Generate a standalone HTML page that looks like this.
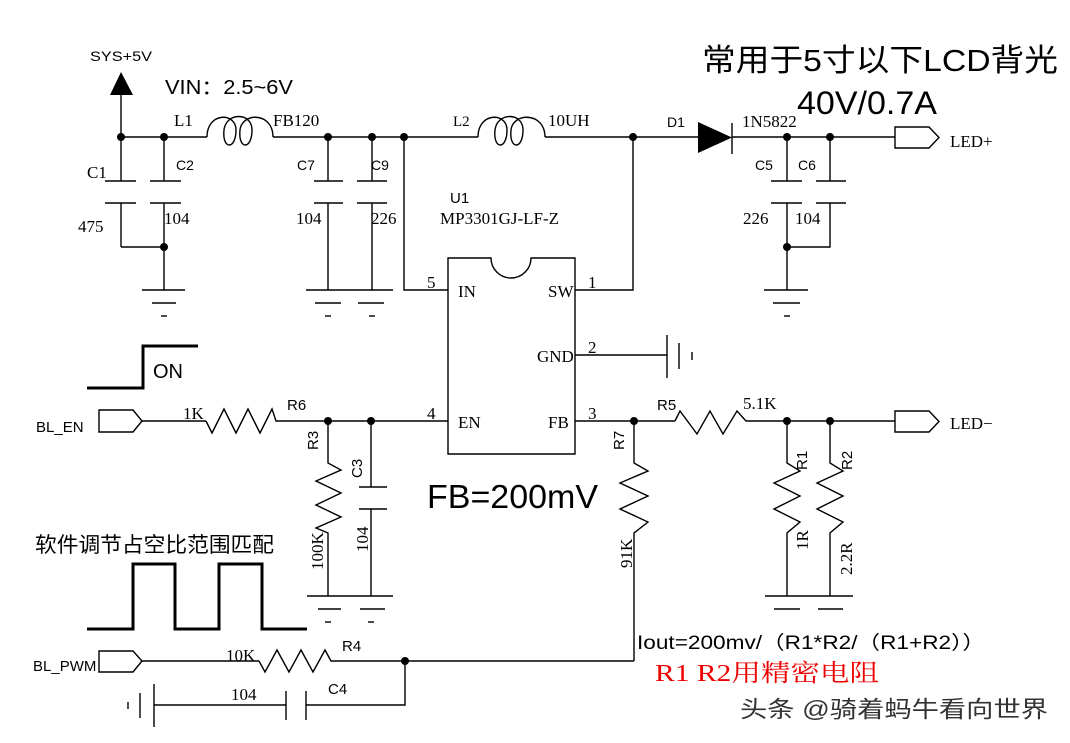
<!DOCTYPE html>
<html><head><meta charset="utf-8"><style>
body{margin:0;background:#fff}
svg{display:block}
.s{font-family:"Liberation Serif","Noto Serif CJK SC",serif}
.a{font-family:"Liberation Sans","Noto Sans CJK SC",sans-serif}
</style></head><body>
<svg width="1070" height="743" viewBox="0 0 1070 743" xmlns="http://www.w3.org/2000/svg">
<g stroke="#000" stroke-width="1.4" fill="none">
<line x1="121" y1="95" x2="121" y2="137"/>
<line x1="121" y1="137" x2="207" y2="137"/>
<path d="M207 137 C207 112,236 112,236 130 C236 150,222 150,224 130 C226 112,252 112,252 130 C252 150,238 150,240 130 C242 112,273 112,273 137"/>
<line x1="273" y1="137" x2="478" y2="137"/>
<path d="M478 137 C478 112,507 112,507 130 C507 150,493 150,495 130 C497 112,523 112,523 130 C523 150,509 150,511 130 C513 112,545 112,545 137"/>
<line x1="545" y1="137" x2="698" y2="137"/>
<line x1="732" y1="137" x2="895" y2="137"/>
<path d="M895 127 H929 L939 137.5 L929 148 H895 Z"/>
<line x1="121" y1="137" x2="121" y2="181"/><line x1="105" y1="181" x2="136" y2="181"/>
<line x1="105" y1="203" x2="136" y2="203"/><line x1="121" y1="203" x2="121" y2="247"/>
<line x1="121" y1="247" x2="164" y2="247"/>
<line x1="164" y1="137" x2="164" y2="181"/><line x1="150" y1="181" x2="181" y2="181"/>
<line x1="150" y1="203" x2="181" y2="203"/><line x1="164" y1="203" x2="164" y2="290"/>
<line x1="142" y1="290" x2="185" y2="290"/><line x1="152" y1="303" x2="176" y2="303"/><line x1="161" y1="316" x2="167" y2="316"/>
<line x1="328" y1="137" x2="328" y2="181"/><line x1="314" y1="181" x2="343" y2="181"/>
<line x1="314" y1="203" x2="343" y2="203"/><line x1="328" y1="203" x2="328" y2="290"/>
<line x1="372" y1="137" x2="372" y2="181"/><line x1="357" y1="181" x2="387" y2="181"/>
<line x1="357" y1="203" x2="387" y2="203"/><line x1="372" y1="203" x2="372" y2="290"/>
<line x1="306" y1="290" x2="393" y2="290"/><line x1="315" y1="303" x2="341" y2="303"/><line x1="358" y1="303" x2="384" y2="303"/>
<line x1="325" y1="316" x2="331" y2="316"/><line x1="369" y1="316" x2="375" y2="316"/>
<polyline points="404,137 404,290 448,290"/>
<path d="M448 258 H491 A20 20 0 0 0 531 258 H575 V454 H448 Z"/>
<polyline points="575,290 633,290 633,137"/>
<line x1="575" y1="355" x2="667" y2="355"/>
<line x1="667" y1="335" x2="667" y2="378"/><line x1="679" y1="343" x2="679" y2="369"/><line x1="692" y1="352" x2="692" y2="360"/>
<line x1="732" y1="123" x2="732" y2="154"/>
<line x1="787" y1="137" x2="787" y2="181"/><line x1="771" y1="181" x2="802" y2="181"/>
<line x1="771" y1="203" x2="802" y2="203"/><line x1="787" y1="203" x2="787" y2="290"/>
<line x1="830" y1="137" x2="830" y2="181"/><line x1="816" y1="181" x2="846" y2="181"/>
<line x1="816" y1="203" x2="846" y2="203"/><polyline points="830,203 830,247 787,247"/>
<line x1="764" y1="290" x2="808" y2="290"/><line x1="773" y1="303" x2="800" y2="303"/><line x1="784" y1="316" x2="790" y2="316"/>
<path d="M99 410 H133 L142 421 L133 432 H99 Z"/>
<line x1="142" y1="421" x2="206" y2="421"/>
<polyline points="206,421 212,433 224,409 236,433 248,409 260,433 272,409 276,421 448,421"/>
<polyline points="328,421 328,463 341,470 316,481 341,493 316,505 341,517 316,528 328,533 328,596"/>
<line x1="371" y1="421" x2="371" y2="487"/><line x1="359" y1="487" x2="387" y2="487"/>
<line x1="359" y1="509" x2="387" y2="509"/><line x1="371" y1="509" x2="371" y2="596"/>
<line x1="307" y1="596" x2="393" y2="596"/><line x1="318" y1="609" x2="341" y2="609"/><line x1="360" y1="609" x2="385" y2="609"/>
<line x1="325" y1="622" x2="331" y2="622"/><line x1="368" y1="622" x2="374" y2="622"/>
<line x1="575" y1="421" x2="675" y2="421"/>
<polyline points="675,421 680,411 697,434 710,411 723,434 737,411 746,421 895,421"/>
<path d="M895 411 H929 L939 421.5 L929 432 H895 Z"/>
<polyline points="634,421 634,463 648,471 620,483 648,496 620,509 648,522 634,533 634,661"/>
<polyline points="787,421 787,463 800,471 774,483 800,496 774,509 800,522 787,533 787,596"/>
<polyline points="830,421 830,463 843,471 817,483 843,496 817,509 843,522 830,533 830,596"/>
<line x1="765" y1="596" x2="853" y2="596"/><line x1="774" y1="609" x2="800" y2="609"/><line x1="818" y1="609" x2="843" y2="609"/>
<path d="M99 651 H133 L142 661 L133 672 H99 Z"/>
<line x1="142" y1="661" x2="259" y2="661"/>
<polyline points="259,661 265,672 277,650 289,672 301,650 313,672 325,650 331,661 634,661"/>
<polyline points="405,661 405,705 306,705"/>
<line x1="306" y1="691" x2="306" y2="720"/><line x1="286" y1="691" x2="286" y2="720"/>
<line x1="286" y1="705" x2="154" y2="705"/>
<line x1="154" y1="684" x2="154" y2="727"/><line x1="140" y1="693" x2="140" y2="718"/><line x1="128" y1="702" x2="128" y2="709"/>
</g>
<g stroke="#000" stroke-width="3" fill="none">
<polyline points="87,388 143,388 143,346 198,346"/>
<polyline points="87,629 133,629 133,564 175,564 175,629 219,629 219,564 262,564 262,629 307,629"/>
</g>
<polygon points="121,72 110,95 133,95" fill="#000"/>
<polygon points="698,122 698,153 732,137.5" fill="#000"/>
<g fill="#000">
<circle cx="121" cy="137" r="4"/><circle cx="164" cy="137" r="4"/><circle cx="164" cy="247" r="4"/>
<circle cx="328" cy="137" r="4"/><circle cx="372" cy="137" r="4"/><circle cx="404" cy="137" r="4"/>
<circle cx="633" cy="137" r="4"/><circle cx="787" cy="137" r="4"/><circle cx="830" cy="137" r="4"/><circle cx="787" cy="247" r="4"/>
<circle cx="328" cy="421" r="4"/><circle cx="371" cy="421" r="4"/><circle cx="634" cy="421" r="4"/>
<circle cx="787" cy="421" r="4"/><circle cx="830" cy="421" r="4"/><circle cx="405" cy="661" r="4"/>
</g>
<g fill="#000" font-size="17">
<text class="a" x="90" y="61" font-size="14" textLength="62" lengthAdjust="spacingAndGlyphs">SYS+5V</text>
<text class="a" x="165" y="94" font-size="20" textLength="128" lengthAdjust="spacingAndGlyphs">VIN：2.5~6V</text>
<text class="s" x="174" y="126">L1</text><text class="s" x="273" y="126">FB120</text>
<text class="a" x="176" y="170" font-size="14">C2</text><text class="a" x="297" y="170" font-size="14">C7</text><text class="a" x="371" y="170" font-size="14">C9</text>
<text class="s" x="87" y="178">C1</text>
<text class="s" x="78" y="232">475</text><text class="s" x="164" y="224">104</text><text class="s" x="296" y="224">104</text><text class="s" x="371" y="224">226</text>
<text class="s" x="453" y="126" font-size="15">L2</text><text class="s" x="548" y="126">10UH</text>
<text class="a" x="450" y="203" font-size="15">U1</text><text class="s" x="440" y="224">MP3301GJ-LF-Z</text>
<text class="a" x="667" y="127" font-size="14">D1</text><text class="s" x="742" y="127">1N5822</text>
<text class="a" x="755" y="170" font-size="14">C5</text><text class="a" x="798" y="170" font-size="14">C6</text>
<text class="s" x="743" y="224">226</text><text class="s" x="795" y="224">104</text>
<text class="s" x="950" y="147">LED+</text><text class="s" x="950" y="429">LED−</text>
<text class="a" x="702" y="71" font-size="31" textLength="356" lengthAdjust="spacingAndGlyphs">常用于5寸以下LCD背光</text>
<text class="a" x="797" y="114" font-size="32" textLength="140" lengthAdjust="spacingAndGlyphs">40V/0.7A</text>
<text class="s" x="458" y="297">IN</text><text class="s" x="548" y="297">SW</text><text class="s" x="537" y="362">GND</text>
<text class="s" x="458" y="428">EN</text><text class="s" x="548" y="428">FB</text>
<text class="s" x="427" y="288">5</text><text class="s" x="588" y="288">1</text><text class="s" x="588" y="353">2</text>
<text class="s" x="427" y="419">4</text><text class="s" x="588" y="419">3</text>
<text class="a" x="153" y="378" font-size="20">ON</text>
<text class="a" x="36" y="432" font-size="15">BL_EN</text>
<text class="s" x="183" y="419">1K</text><text class="a" x="287" y="410" font-size="15">R6</text>
<text class="a" x="657" y="410" font-size="15">R5</text><text class="s" x="743" y="409">5.1K</text>
<text class="a" x="427" y="508" font-size="33" textLength="171" lengthAdjust="spacingAndGlyphs">FB=200mV</text>
<text class="a" x="35" y="552" font-size="21" textLength="239" lengthAdjust="spacingAndGlyphs">软件调节占空比范围匹配</text>
<text class="a" x="33" y="671" font-size="15">BL_PWM</text>
<text class="s" x="226" y="661">10K</text><text class="a" x="342" y="651" font-size="15">R4</text>
<text class="s" x="231" y="700">104</text><text class="a" x="328" y="694" font-size="15">C4</text>
<text class="a" x="637" y="649" font-size="19" textLength="348" lengthAdjust="spacingAndGlyphs">Iout=200mv/（R1*R2/（R1+R2））</text>
<text class="s" x="655" y="681" font-size="24" fill="#e00" textLength="224" lengthAdjust="spacingAndGlyphs">R1 R2用精密电阻</text>
<text class="a" x="740" y="717" font-size="23" fill="#333" textLength="308" lengthAdjust="spacingAndGlyphs">头条 @骑着蚂牛看向世界</text>
<g font-size="15" class="a">
<text transform="translate(318,450) rotate(-90)">R3</text>
<text transform="translate(362,478) rotate(-90)">C3</text>
<text transform="translate(624,450) rotate(-90)">R7</text>
<text transform="translate(807,470) rotate(-90)">R1</text>
<text transform="translate(852,470) rotate(-90)">R2</text>
</g>
<text class="s" transform="translate(323,570) rotate(-90)">100K</text>
<text class="s" transform="translate(368,552) rotate(-90)">104</text>
<text class="s" transform="translate(632,568) rotate(-90)">91K</text>
<text class="s" transform="translate(808,550) rotate(-90)">1R</text>
<text class="s" transform="translate(852,575) rotate(-90)">2.2R</text>
</g>
</svg>
</body></html>
